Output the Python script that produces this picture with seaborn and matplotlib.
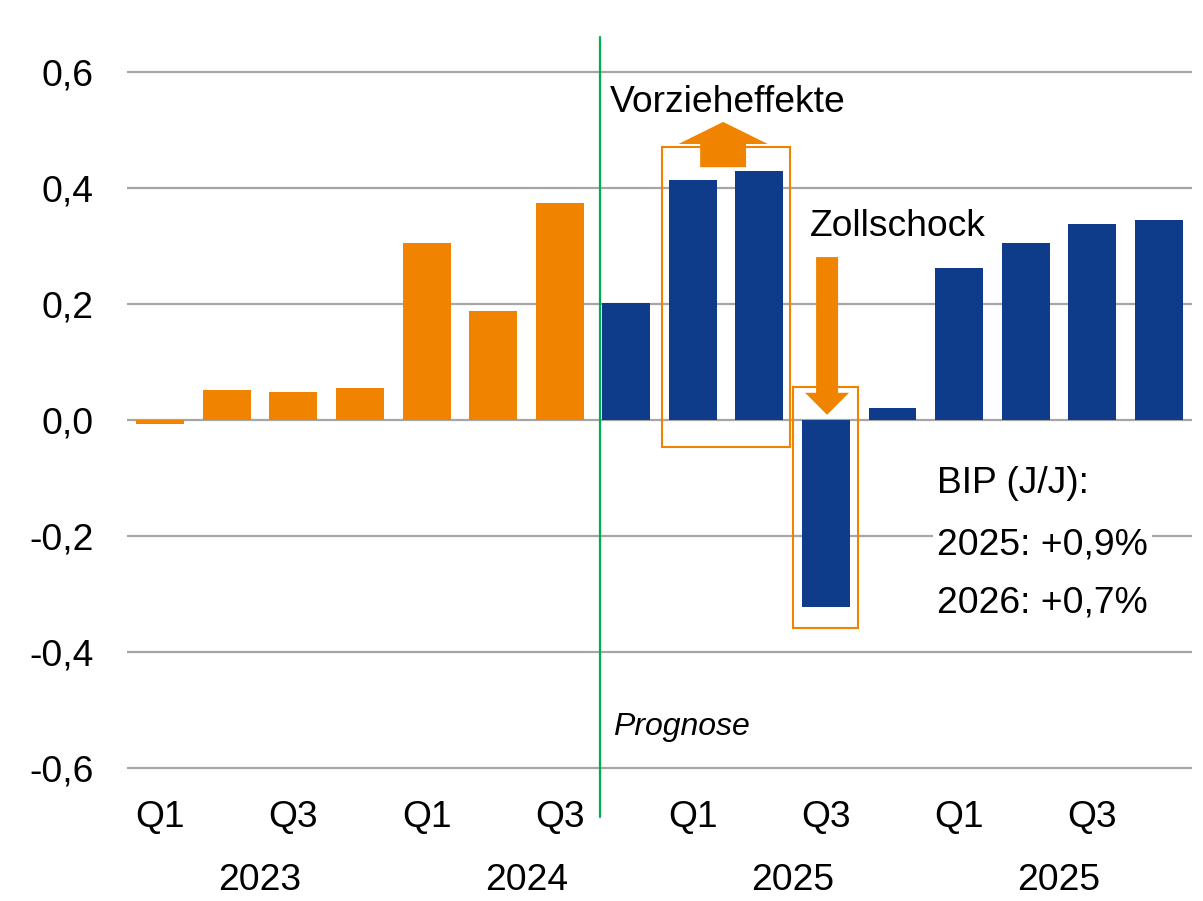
import matplotlib
matplotlib.use("Agg")
import matplotlib.pyplot as plt
from matplotlib.patches import Rectangle, FancyArrow
import seaborn as sns
import pandas as pd

# quarterly GDP growth q/q in %, 2023Q1 .. 2026Q4
quarters = ["2023Q1", "2023Q2", "2023Q3", "2023Q4",
            "2024Q1", "2024Q2", "2024Q3", "2024Q4",
            "2025Q1", "2025Q2", "2025Q3", "2025Q4",
            "2026Q1", "2026Q2", "2026Q3", "2026Q4"]
growth = [-0.007, 0.052, 0.048, 0.055, 0.305, 0.188, 0.374, 0.202,
          0.414, 0.429, -0.322, 0.021, 0.262, 0.305, 0.338, 0.345]
period = ["Ist"] * 7 + ["Prognose"] * 9
tick_labels = ["Q1", "", "Q3", ""] * 4
year_labels = ["2023", "2024", "2025", "2025"]
y_ticks = [-0.6, -0.4, -0.2, 0.0, 0.2, 0.4, 0.6]

ORANGE = "#F08300"
BLUE = "#0F3C8A"
GREEN = "#00B050"
GRID = "#A6A6A6"
FS = 26.8

df = pd.DataFrame({"quarter": quarters, "growth": growth, "period": period})

sns.set_style("white")
plt.rcParams["font.family"] = ["Liberation Sans", "DejaVu Sans"]
plt.rcParams["text.color"] = "black"

fig = plt.figure(figsize=(12.03, 9.01), dpi=100)
ax = fig.add_axes([0.1056, 0.1347, 0.8853, 0.7982])

sns.barplot(data=df, x="quarter", y="growth", hue="period",
            palette={"Ist": ORANGE, "Prognose": BLUE}, dodge=False,
            width=0.72, legend=False, ax=ax, zorder=3, saturation=1,
            linewidth=0)

ax.set_xlim(-0.5, 15.5)
ax.set_ylim(-0.62, 0.62)
ax.set_yticks(y_ticks)
ax.set_yticklabels([f"{v:.1f}".replace(".", ",") for v in y_ticks])
ax.set_xticks(range(len(quarters)))
ax.set_xticklabels(tick_labels)
ax.tick_params(axis="both", length=0, labelsize=FS, colors="black")
ax.tick_params(axis="y", pad=24)
ax.tick_params(axis="x", pad=15)
ax.set_xlabel("")
ax.set_ylabel("")
for s in ax.spines.values():
    s.set_visible(False)
ax.yaxis.grid(True, color=GRID, linewidth=1.6, zorder=0)
ax.set_axisbelow(True)

# year labels below the quarter ticks
for i, yl in enumerate(year_labels):
    ax.text(i * 4 + 1.5, -0.1396, yl, transform=ax.get_xaxis_transform(),
            ha="center", va="center", fontsize=FS)

# forecast separator
ax.plot([6.6, 6.6], [0.66, -0.685], color=GREEN, linewidth=1.6,
        clip_on=False, zorder=4)
ax.text(6.8, -0.529, "Prognose", fontsize=23, style="italic",
        ha="left", va="center")

# front-loading effects
ax.add_patch(Rectangle((7.54, -0.047), 1.92, 0.518, fill=False,
                       edgecolor=ORANGE, linewidth=1.5, zorder=4))
ax.add_patch(FancyArrow(8.455, 0.436, 0, 0.078, width=0.69, head_width=1.34,
                        head_length=0.038, length_includes_head=True,
                        color=ORANGE, zorder=5, linewidth=0))
ax.text(6.76, 0.547, "Vorzieheffekte", fontsize=FS, ha="left", va="center")

# tariff shock
ax.add_patch(Rectangle((9.51, -0.359), 0.97, 0.416, fill=False,
                       edgecolor=ORANGE, linewidth=1.5, zorder=4))
ax.add_patch(FancyArrow(10.017, 0.281, 0, -0.272, width=0.33, head_width=0.66,
                        head_length=0.038, length_includes_head=True,
                        color=ORANGE, zorder=5, linewidth=0))
ax.text(9.76, 0.333, "Zollschock", fontsize=FS, ha="left", va="center")

# annual growth box
for yv, txt in zip([-0.109, -0.216, -0.316],
                   ["BIP (J/J):", "2025: +0,9%", "2026: +0,7%"]):
    ax.text(11.67, yv, txt, fontsize=FS, ha="left", va="center", zorder=6,
            bbox=dict(facecolor="white", edgecolor="none", pad=3))

fig.savefig("out.png", dpi=100)
